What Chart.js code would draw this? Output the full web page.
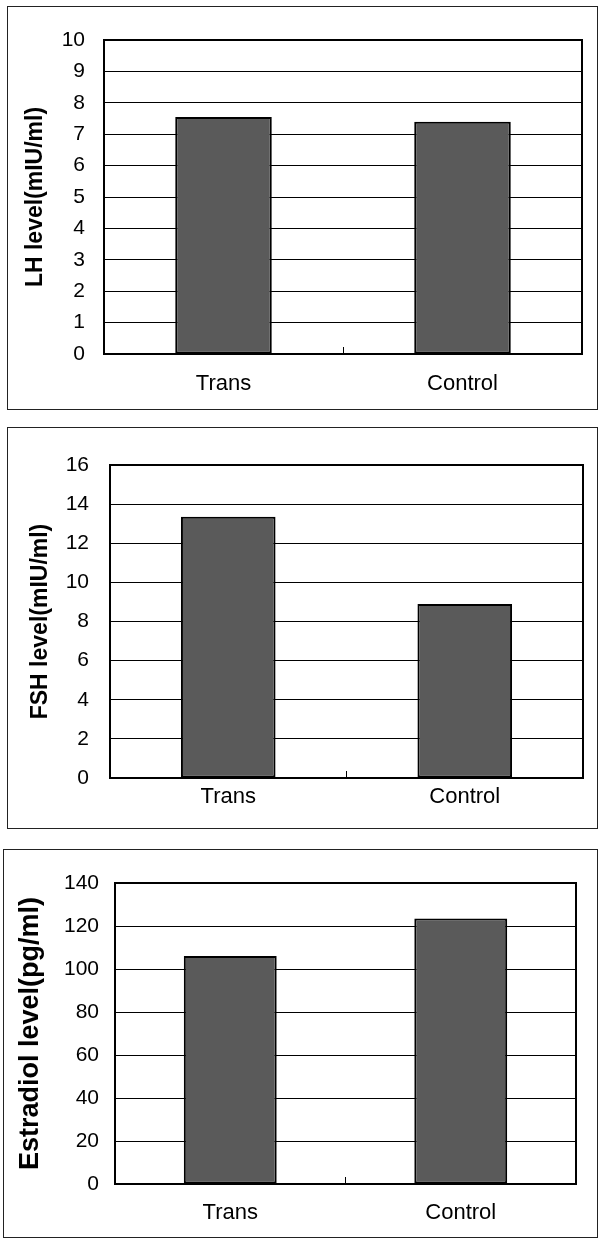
<!DOCTYPE html>
<html>
<head>
<meta charset="utf-8">
<script src="https://cdn.jsdelivr.net/npm/chart.js@4"></script>
<style>
  body { margin: 0; background: #fff; width: 600px; height: 1239px; position: relative; }
  .panel { position: absolute; border: 1px solid #222; box-sizing: border-box; }
  .panel canvas { display: block; }
</style>
</head>
<body>
<div class="panel" style="left:7px; top:6px; width:591px; height:404px;">
  <canvas id="lhChart" width="589" height="402"></canvas>
</div>
<div class="panel" style="left:7px; top:427px; width:591px; height:402px;">
  <canvas id="fshChart" width="589" height="400"></canvas>
</div>
<div class="panel" style="left:3px; top:849px; width:595px; height:389px;">
  <canvas id="e2Chart" width="593" height="387"></canvas>
</div>
<script>
// Data
const categories = ['Trans', 'Control'];
const lhValues = [7.55, 7.4];
const fshValues = [13.35, 8.9];
const estradiolValues = [106, 123.5];

// Y axis ranges (max, step)
const lhAxis = [10, 1];
const fshAxis = [16, 2];
const estradiolAxis = [140, 20];

const FONT = 'Liberation Sans, Arial, sans-serif';

// draws the black box around the plot area
const framePlugin = {
  id: 'frame',
  afterDatasetsDraw(chart) {
    const a = chart.chartArea;
    const ctx = chart.ctx;
    ctx.save();
    ctx.strokeStyle = '#000';
    ctx.lineWidth = 2;
    ctx.strokeRect(a.left, a.top, a.right - a.left, a.bottom - a.top);
    ctx.restore();
  }
};

function makeChart(id, values, axis, title, cfg) {
  const ctx = document.getElementById(id).getContext('2d');
  return new Chart(ctx, {
    type: 'bar',
    data: {
      labels: categories,
      datasets: [{
        data: values,
        backgroundColor: '#5a5a5a',
        borderColor: '#000',
        borderWidth: 2,
        borderSkipped: false,
        categoryPercentage: 1,
        barPercentage: cfg.bar
      }]
    },
    options: {
      responsive: false,
      animation: false,
      layout: { padding: { top: cfg.top, right: cfg.right, left: 0, bottom: 0 } },
      plugins: { legend: { display: false }, tooltip: { enabled: false } },
      scales: {
        x: {
          grid: {
            display: true,
            drawOnChartArea: false,
            drawTicks: true,
            tickLength: -7,
            color: '#000',
            lineWidth: 1
          },
          border: { display: false },
          ticks: {
            color: '#000',
            padding: cfg.xPad,
            font: { family: FONT, size: 22 }
          },
          afterFit: (s) => { s.height = cfg.xHeight; }
        },
        y: {
          min: 0,
          max: axis[0],
          grid: { color: '#000', lineWidth: 1, drawTicks: false },
          border: { display: false },
          ticks: {
            stepSize: axis[1],
            color: '#000',
            padding: cfg.yPad,
            font: { family: FONT, size: 21 }
          },
          title: {
            display: true,
            text: title,
            color: '#000',
            padding: { top: cfg.titlePad, bottom: 0 },
            font: { family: FONT, size: cfg.titleSize, weight: 'bold' }
          },
          afterFit: (s) => { s.width = cfg.yWidth; }
        }
      }
    },
    plugins: [framePlugin]
  });
}

window.onload = function() {
  makeChart('lhChart', lhValues, lhAxis, 'LH level(mIU/ml)', {
    top: 33, right: 15, yWidth: 96, xHeight: 55,
    yPad: 19, xPad: 24, titlePad: 14, titleSize: 23, bar: 0.404
  });
  makeChart('fshChart', fshValues, fshAxis, 'FSH level(mIU/ml)', {
    top: 37, right: 14, yWidth: 102, xHeight: 50,
    yPad: 21, xPad: 13, titlePad: 19, titleSize: 23, bar: 0.40
  });
  makeChart('e2Chart', estradiolValues, estradiolAxis, 'Estradiol level(pg/ml)', {
    top: 33, right: 21, yWidth: 111, xHeight: 53,
    yPad: 16, xPad: 23, titlePad: 10, titleSize: 27, bar: 0.403
  });
};
</script>
</body>
</html>
